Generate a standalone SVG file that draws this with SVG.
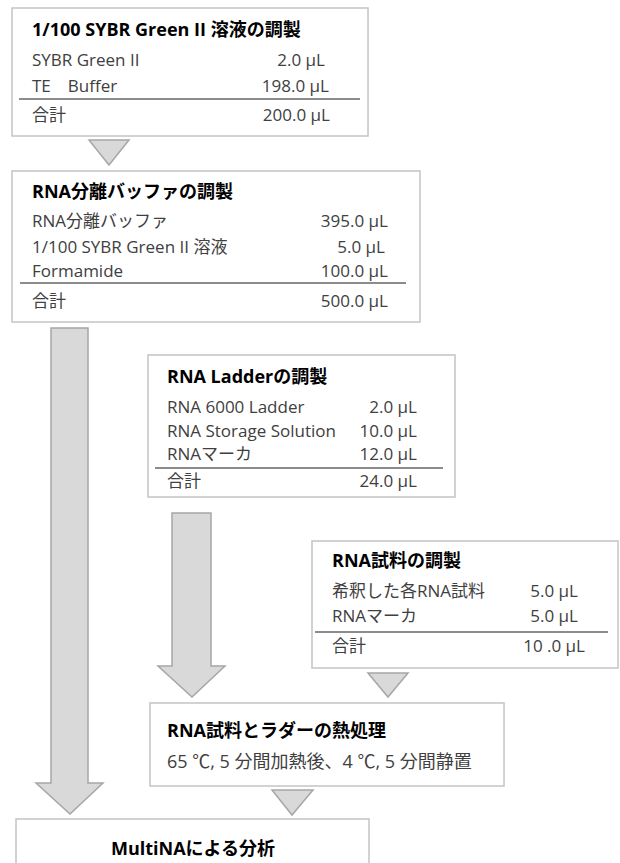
<svg xmlns="http://www.w3.org/2000/svg" width="620" height="863" viewBox="0 0 620 863">
<style>
.box{fill:#fff;stroke:#c4c4c4;stroke-width:1.5}
.sep{stroke:#1a1a1a;stroke-width:1.2}
.arr{fill:#d9d9d9;stroke:#a6a6a6;stroke-width:1.5;stroke-linejoin:miter}
.t{font-family:"Open Sans","Noto Sans CJK JP",sans-serif;font-size:18px;font-weight:bold;fill:#000}
.b{font-family:"Open Sans","Noto Sans CJK JP",sans-serif;font-size:17px;fill:#404040}
.v{text-anchor:end}
</style>
<rect width="620" height="863" fill="#fff"/>
<g id="connectors">
<polygon class="arr" points="89,140 129,140 109,165"/>
<polygon class="arr" points="51,328 88,328 88,783 103,783 70,814 36,783 51,783"/>
<polygon class="arr" points="172,513 211,513 211,666 225,666 192,697 158,666 172,666"/>
<polygon class="arr" points="368,673 408,673 388,697"/>
<polygon class="arr" points="272,790 313,790 292,815"/>
</g>
<g id="sybr">
<rect class="box" x="12" y="8" width="356" height="128"/>
<text class="t" x="32" y="36">1/100 SYBR Green II 溶液の調製</text>
<text class="b" x="32" y="66">SYBR Green II</text>
<text class="b v" x="325" y="66">2.0 µL</text>
<text class="b" x="32" y="92">TE　Buffer</text>
<text class="b v" x="329" y="92">198.0 µL</text>
<line class="sep" x1="19" y1="99" x2="360" y2="99"/>
<text class="b" x="32" y="121">合計</text>
<text class="b v" x="330" y="121">200.0 µL</text>
</g>
<g id="buffer">
<rect class="box" x="12" y="171" width="408" height="151"/>
<text class="t" x="32" y="198">RNA分離バッファの調製</text>
<text class="b" x="32" y="227">RNA分離バッファ</text>
<text class="b v" x="388" y="227">395.0 µL</text>
<text class="b" x="32" y="253">1/100 SYBR Green II 溶液</text>
<text class="b v" x="385" y="253">5.0 µL</text>
<text class="b" x="32" y="277">Formamide</text>
<text class="b v" x="388" y="277">100.0 µL</text>
<line class="sep" x1="20" y1="283" x2="406" y2="283"/>
<text class="b" x="32" y="307">合計</text>
<text class="b v" x="388" y="307">500.0 µL</text>
</g>
<g id="ladder">
<rect class="box" x="148" y="355" width="307" height="142"/>
<text class="t" x="167" y="383">RNA Ladderの調製</text>
<text class="b" x="167" y="413">RNA 6000 Ladder</text>
<text class="b v" x="417" y="413">2.0 µL</text>
<text class="b" x="167" y="436.5">RNA Storage Solution</text>
<text class="b v" x="417" y="436.5">10.0 µL</text>
<text class="b" x="167" y="460">RNAマーカ</text>
<text class="b v" x="417" y="460">12.0 µL</text>
<line class="sep" x1="155" y1="468" x2="443" y2="468"/>
<text class="b" x="167" y="487">合計</text>
<text class="b v" x="417" y="487">24.0 µL</text>
</g>
<g id="sample">
<rect class="box" x="312" y="541" width="306" height="127"/>
<text class="t" x="332" y="567">RNA試料の調製</text>
<text class="b" x="332" y="597">希釈した各RNA試料</text>
<text class="b v" x="578" y="597">5.0 µL</text>
<text class="b" x="332" y="622">RNAマーカ</text>
<text class="b v" x="578" y="622">5.0 µL</text>
<line class="sep" x1="315" y1="632" x2="608" y2="632"/>
<text class="b" x="332" y="652">合計</text>
<text class="b v" x="585" y="652">10 .0 µL</text>
</g>
<g id="heat">
<rect class="box" x="150" y="703" width="354" height="83"/>
<text class="t" x="167" y="737">RNA試料とラダーの熱処理</text>
<text class="b" x="167" y="768" style="font-size:18px">65 ℃, 5 分間加熱後、4 ℃, 5 分間静置</text>
</g>
<g id="multina">
<rect class="box" x="16" y="819" width="353" height="60"/>
<text class="t" x="193" y="855" text-anchor="middle">MultiNAによる分析</text>
</g>
</svg>
